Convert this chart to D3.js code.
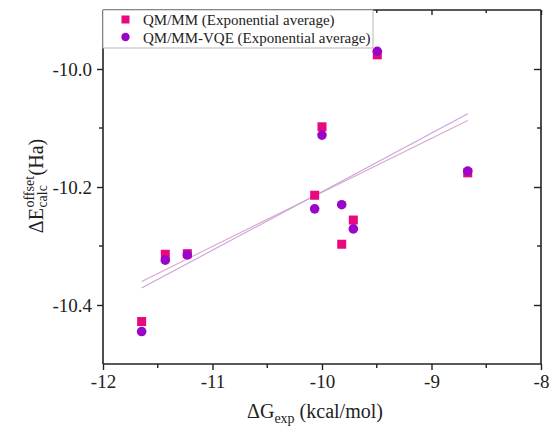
<!DOCTYPE html>
<html>
<head>
<meta charset="utf-8">
<script src="https://cdn.jsdelivr.net/npm/d3@7"></script>
<style>
  html, body { margin: 0; padding: 0; background: #fff; }
  svg { display: block; }
  text { font-family: "Liberation Serif", "DejaVu Serif", serif; fill: #222; }
</style>
</head>
<body>
<svg id="chart" width="551" height="428"></svg>
<script>
// Experimental binding free energies (kcal/mol)
const dGexp = [-11.647, -11.431, -11.230, -10.000, -10.067, -9.820, -9.714, -9.495, -8.669];
// Offset-corrected calculated energies (Ha), exponential average
const qmmm    = [-10.428, -10.314, -10.313, -10.098, -10.214, -10.297, -10.256, -9.976, -10.176];
const qmmmVqe = [-10.445, -10.324, -10.315, -10.112, -10.237, -10.230, -10.271, -9.970, -10.173];

const seriesNames = ["QM/MM (Exponential average)", "QM/MM-VQE (Exponential average)"];
const xTicks = [-12, -11, -10, -9, -8];
const yTicks = [-10.4, -10.2, -10.0];

const W = 551, H = 428;
const margin = { left: 103, right: 10, top: 10, bottom: 64 };
const svg = d3.select("#chart");

const x = d3.scaleLinear().domain([-12, -8]).range([margin.left, W - margin.right]);
const y = d3.scaleLinear().domain([-10.5, -9.9]).range([H - margin.bottom, margin.top]);

const axisColor = "#222";
const sqColor = "#e8097f";
const ciColor = "#9a05c8";
const sqLine = "#dba6c8";
const ciLine = "#c9a3dc";

const x0 = x.range()[0], x1 = x.range()[1], y0 = y.range()[0], y1 = y.range()[1];

// Axes: bottom and left carry labels, top and right are mirrored with inward ticks
const xMinor = d3.range(-11.5, -8, 1);
const yMinor = [-10.3, -10.1];

const gBottom = svg.append("g").attr("transform", `translate(0,${y0})`)
  .call(d3.axisBottom(x).tickValues(xTicks).tickFormat(d => String(d)).tickSize(6).tickPadding(5));
gBottom.append("g").selectAll("line").data(xMinor).join("line")
  .attr("x1", d => x(d)).attr("x2", d => x(d)).attr("y1", 0).attr("y2", 4);

const gLeft = svg.append("g").attr("transform", `translate(${x0},0)`)
  .call(d3.axisLeft(y).tickValues(yTicks).tickFormat(d => d.toFixed(1)).tickSize(6).tickPadding(5));
gLeft.append("g").selectAll("line").data(yMinor).join("line")
  .attr("x1", 0).attr("x2", -4).attr("y1", d => y(d)).attr("y2", d => y(d));

const gTop = svg.append("g").attr("transform", `translate(0,${y1})`)
  .call(d3.axisBottom(x).tickValues(xTicks).tickFormat("").tickSize(5));
gTop.append("g").selectAll("line").data(xMinor).join("line")
  .attr("x1", d => x(d)).attr("x2", d => x(d)).attr("y1", 0).attr("y2", 3);

const gRight = svg.append("g").attr("transform", `translate(${x1},0)`)
  .call(d3.axisLeft(y).tickValues(yTicks).tickFormat("").tickSize(7));
gRight.append("g").selectAll("line").data(yMinor).join("line")
  .attr("x1", 0).attr("x2", -4).attr("y1", d => y(d)).attr("y2", d => y(d));

[gBottom, gLeft, gTop, gRight].forEach(g => {
  g.select(".domain").attr("stroke", axisColor).attr("stroke-width", 1.6);
  g.selectAll("line").attr("stroke", axisColor).attr("stroke-width", 1.4);
  g.selectAll("text").style("font-family", "'Liberation Serif', serif").style("font-size", "19px").style("fill", "#222");
});
// plain axis lines without outer tick caps
gBottom.select(".domain").attr("d", `M${x0},0H${x1}`);
gTop.select(".domain").attr("d", `M${x0},0H${x1}`);
gLeft.select(".domain").attr("d", `M0,${y0}V${y1}`);
gRight.select(".domain").attr("d", `M0,${y0}V${y1}`);

// Least-squares linear fit over the data range
function fit(xs, ys) {
  const mx = d3.mean(xs), my = d3.mean(ys);
  const sxy = d3.sum(xs, (v, i) => (v - mx) * (ys[i] - my));
  const sxx = d3.sum(xs, v => (v - mx) * (v - mx));
  const b = sxy / sxx, a = my - b * mx;
  const [lo, hi] = d3.extent(xs);
  return [[lo, a + b * lo], [hi, a + b * hi]];
}
const line = d3.line().x(d => x(d[0])).y(d => y(d[1]));
svg.append("path").attr("d", line(fit(dGexp, qmmm)))
  .attr("fill", "none").attr("stroke", sqLine).attr("stroke-width", 1.1);
svg.append("path").attr("d", line(fit(dGexp, qmmmVqe)))
  .attr("fill", "none").attr("stroke", ciLine).attr("stroke-width", 1.1);

// Legend
const lg = svg.append("g");
lg.append("rect").attr("x", x0).attr("y", y1).attr("width", 270).attr("height", 38)
  .attr("fill", "#fff").attr("stroke", "#b8b8b8").attr("stroke-width", 1);
lg.append("rect").attr("x", 121.5).attr("y", 15.5).attr("width", 8).attr("height", 8).attr("fill", sqColor);
lg.append("circle").attr("cx", 125.5).attr("cy", 37).attr("r", 4.2).attr("fill", ciColor);
lg.append("text").attr("x", 143).attr("y", 25).attr("font-size", 15).text(seriesNames[0]);
lg.append("text").attr("x", 143).attr("y", 43).attr("font-size", 15).text(seriesNames[1]);

// Data markers
const s = 9;
svg.append("g").selectAll("rect").data(dGexp).join("rect")
  .attr("x", d => x(d) - s / 2).attr("y", (d, i) => y(qmmm[i]) - s / 2)
  .attr("width", s).attr("height", s).attr("fill", sqColor);
svg.append("g").selectAll("circle").data(dGexp).join("circle")
  .attr("cx", d => x(d)).attr("cy", (d, i) => y(qmmmVqe[i])).attr("r", 4.8).attr("fill", ciColor);

// X axis title: ΔG_exp (kcal/mol)
const xt = svg.append("text").attr("x", (x0 + x1) / 2 - 7).attr("y", 418)
  .attr("text-anchor", "middle").attr("font-size", 20);
xt.append("tspan").text("ΔG");
xt.append("tspan").attr("font-size", 14).attr("dy", 5).text("exp");
xt.append("tspan").attr("dy", -5).text(" (kcal/mol)");

// Y axis title: ΔE with stacked super/subscript, then (Ha)
const yt = svg.append("g").attr("transform", `translate(43,186) rotate(-90)`);
const base = yt.append("text").attr("x", 0).attr("y", 0).attr("font-size", 20).text("ΔE");
const bw = base.node().getComputedTextLength();
const sup = yt.append("text").attr("x", bw + 0.5).attr("y", -9).attr("font-size", 14).text("offset");
const sub = yt.append("text").attr("x", bw + 0.5).attr("y", 4).attr("font-size", 14).text("calc");
const sw = Math.max(sup.node().getComputedTextLength(), sub.node().getComputedTextLength());
yt.append("text").attr("x", bw + sw + 1).attr("y", 0).attr("font-size", 20).text("(Ha)");
// centre the whole title on its anchor
const totalW = yt.node().getBBox().width;
yt.selectAll("text").attr("transform", `translate(${-totalW / 2},0)`);
</script>
</body>
</html>
